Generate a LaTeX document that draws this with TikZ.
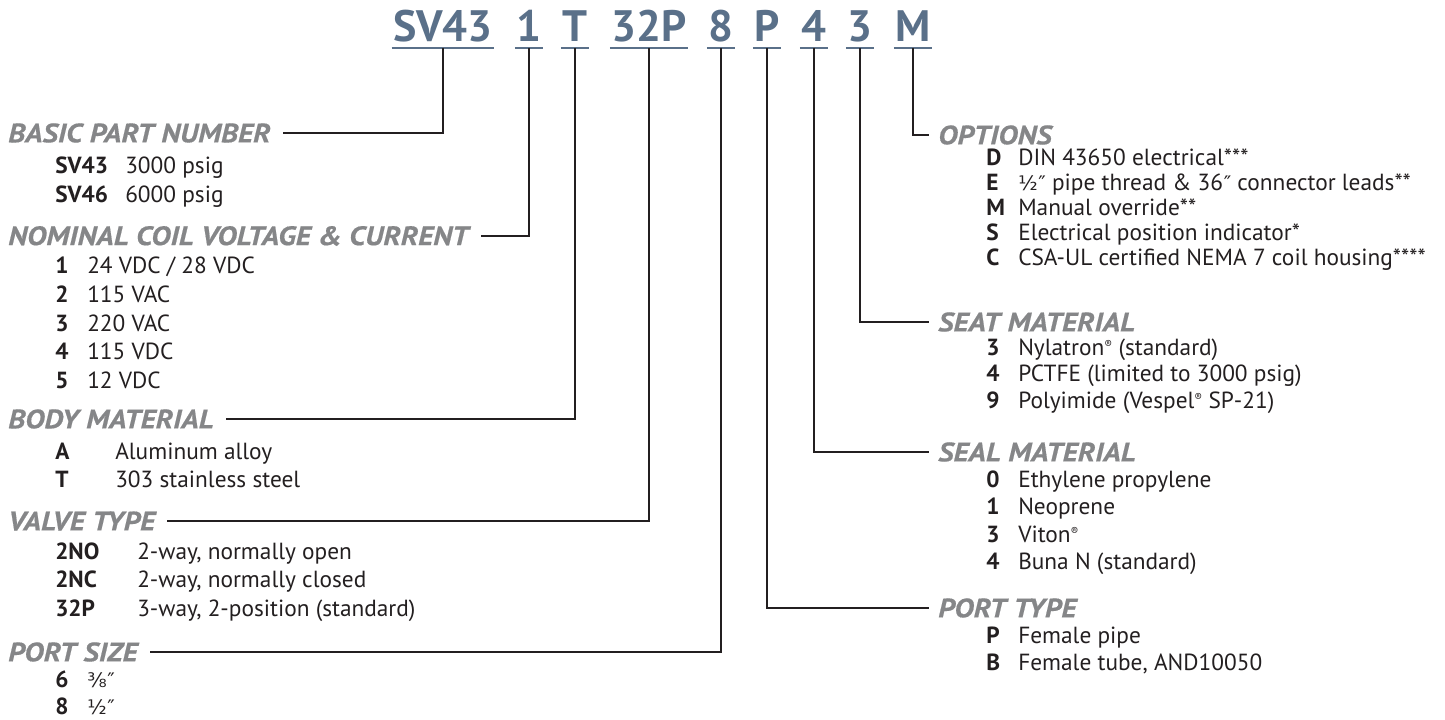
\documentclass[tikz,border=0pt]{standalone}
\usepackage{fontspec}
\setmainfont{PT Sans}
\newfontfamily\hdfont[FakeStretch=1.12, BoldItalicFeatures={FakeBold=0.5}]{PT Sans}
\newfontfamily\symfont{DejaVu Sans}
\definecolor{codeblue}{HTML}{5A7089}
\definecolor{hdgrey}{HTML}{858688}
\definecolor{inkblack}{HTML}{231F20}
\newcommand{\inch}[1]{{\symfont\fontsize{15}{15}\selectfont #1\kern0.5pt″}}
\newcommand{\regd}{\raisebox{0.55ex}{\fontsize{8.5}{8.5}\selectfont ®}}

\begin{document}
\begin{tikzpicture}[x=0.75pt, y=-0.75pt, font=\fontsize{17.5}{19}\selectfont,
  partcode/.style={font=\fontsize{33}{36}\selectfont\bfseries, text=codeblue, inner sep=0pt, anchor=base},
  ubar/.style={draw=codeblue, line width=2pt},
  hdg/.style={font=\fontsize{20}{22}\selectfont\hdfont\bfseries\itshape, text=hdgrey, inner sep=0pt},
  conn/.style={draw=inkblack, line width=1.4pt},
  keycode/.style={font=\fontsize{17.5}{19}\selectfont\bfseries, text=inkblack, inner sep=0pt, anchor=base west},
  keytext/.style={text=inkblack, inner sep=0pt, anchor=base west}]
\useasboundingbox (0,0) rectangle (1445,720);

% part number, one piece per field
\foreach \nm/\txt/\xx in {sv/SV43/443, volt/1/529, body/T/575, valve/32P/649,
    size/8/721, port/P/767, seal/4/814, seat/3/860, opt/M/913}{
  \node[partcode] (\nm) at (\xx,42) {\txt};
  \draw[ubar] ([xshift=-1pt,yshift=-4.5pt]\nm.base west) -- ([xshift=1pt,yshift=-4.5pt]\nm.base east);
}

% left column
\node[hdg, anchor=west] (h-sv) at (8,133) {BASIC PART NUMBER};
\foreach \c/\d [count=\i from 0] in {SV43/3000 psig, SV46/6000 psig}{
  \node[keycode] (sv-c\i) at (55,{174+\i*28.5}) {\c};
  \node[keytext] (sv-d\i) at (125,{174+\i*28.5}) {\d};
}
\node[hdg, anchor=west] (h-volt) at (8,236) {NOMINAL COIL VOLTAGE \& CURRENT};
\foreach \c/\d [count=\i from 0] in {1/{24 VDC / 28 VDC}, 2/115 VAC, 3/220 VAC, 4/115 VDC, 5/12 VDC}{
  \node[keycode] (volt-c\i) at (55,{274+\i*28.5}) {\c};
  \node[keytext] (volt-d\i) at (87,{274+\i*28.5}) {\d};
}
\node[hdg, anchor=west] (h-body) at (8,419) {BODY MATERIAL};
\foreach \c/\d [count=\i from 0] in {A/Aluminum alloy, T/303 stainless steel}{
  \node[keycode] (body-c\i) at (55,{459+\i*28.5}) {\c};
  \node[keytext] (body-d\i) at (115,{459+\i*28.5}) {\d};
}
\node[hdg, anchor=west] (h-valve) at (8,521) {VALVE TYPE};
\foreach \c/\d [count=\i from 0] in {2NO/{2-way, normally open}, 2NC/{2-way, normally closed},
    32P/{3-way, 2-position (standard)}}{
  \node[keycode] (valve-c\i) at (55,{559+\i*28.5}) {\c};
  \node[keytext] (valve-d\i) at (137,{559+\i*28.5}) {\d};
}
\node[hdg, anchor=west] (h-size) at (8,652) {PORT SIZE};
\foreach \c/\d [count=\i from 0] in {6/\inch{⅜}, 8/\inch{½}}{
  \node[keycode] (size-c\i) at (55,{687+\i*27.5}) {\c};
  \node[keytext] (size-d\i) at (87,{687+\i*27.5}) {\d};
}

% right column
\node[hdg, anchor=west] (h-opt) at (938,135) {OPTIONS};
\foreach \c/\d [count=\i from 0] in {D/DIN 43650 electrical***,
    E/\inch{½} pipe thread \& 36\inch{} connector leads**, M/Manual override**,
    S/Electrical position indicator*, C/CSA-UL certified NEMA 7 coil housing****}{
  \node[keycode] (opt-c\i) at (986,{166+\i*24.8}) {\c};
  \node[keytext] (opt-d\i) at (1018,{166+\i*24.8}) {\d};
}
\node[hdg, anchor=west] (h-seat) at (938,322) {SEAT MATERIAL};
\foreach \c/\d [count=\i from 0] in {3/Nylatron\regd{} (standard), 4/PCTFE (limited to 3000 psig),
    9/Polyimide (Vespel\regd{} SP-21)}{
  \node[keycode] (seat-c\i) at (986,{355+\i*26.5}) {\c};
  \node[keytext] (seat-d\i) at (1018,{355+\i*26.5}) {\d};
}
\node[hdg, anchor=west] (h-seal) at (938,452) {SEAL MATERIAL};
\foreach \c/\d [count=\i from 0] in {0/Ethylene propylene, 1/Neoprene, 3/Viton\regd, 4/Buna N (standard)}{
  \node[keycode] (seal-c\i) at (986,{487+\i*27.5}) {\c};
  \node[keytext] (seal-d\i) at (1018,{487+\i*27.5}) {\d};
}
\node[hdg, anchor=west] (h-port) at (938,608) {PORT TYPE};
\foreach \c/\d [count=\i from 0] in {P/Female pipe, B/{Female tube, AND10050}}{
  \node[keycode] (port-c\i) at (986,{643+\i*27.5}) {\c};
  \node[keytext] (port-d\i) at (1018,{643+\i*27.5}) {\d};
}

% leader lines from the part number down to each heading
\foreach \nm in {sv, volt, body, valve, size}{
  \draw[conn] ([yshift=-4.5pt]\nm.base) |- ([xshift=9pt]h-\nm.east);
}
\foreach \nm in {port, seal, seat, opt}{
  \draw[conn] ([yshift=-4.5pt]\nm.base) |- ([xshift=-7pt]h-\nm.west);
}
\end{tikzpicture}
\end{document}
